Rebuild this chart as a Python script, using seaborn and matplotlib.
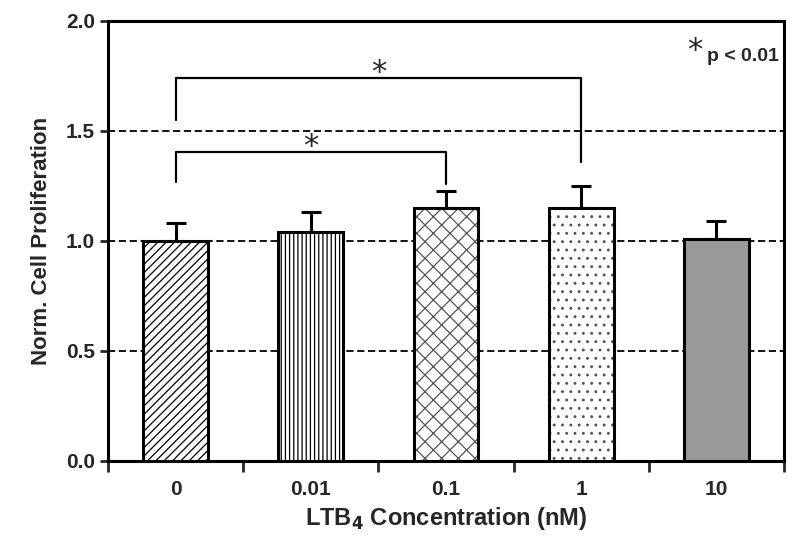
import matplotlib
matplotlib.use("Agg")
import matplotlib.pyplot as plt
import seaborn as sns
import numpy as np

# data
conc = ["0", "0.01", "0.1", "1", "10"]
prolif = [1.00, 1.04, 1.15, 1.15, 1.01]
err = [0.08, 0.09, 0.075, 0.10, 0.08]
hatches = ["////", "||||", "xx", "..", ""]
hatch_cols = ["black", "black", "#555555", "#555555", "black"]
fills = ["white", "white", "white", "white", "#999999"]

sns.set_style("ticks")
plt.rcParams["font.family"] = ["Liberation Sans", "DejaVu Sans"]
plt.rcParams["hatch.linewidth"] = 0.9

fig = plt.figure(figsize=(8, 5.5), dpi=100)
ax = fig.add_axes([0.135, 0.162, 0.845, 0.80])

# fill + hatch layer
ax_bar = sns.barplot(x=conc, y=prolif, color="white", width=0.48, linewidth=0,
                     errorbar=None, ax=ax, zorder=3)
for p, h, hc, f in zip(ax_bar.patches, hatches, hatch_cols, fills):
    p.set_hatch(h)
    p.set_facecolor(f)
    p.set_edgecolor(hc)
# outline layer
sns.barplot(x=conc, y=prolif, fill=False, width=0.48, edgecolor="black",
            linewidth=2.2, errorbar=None, ax=ax, zorder=4)

# upper error bars only
ax.errorbar(range(len(conc)), prolif, yerr=[np.zeros(len(err)), err], fmt="none",
            ecolor="black", elinewidth=2.2, capsize=7, capthick=2.2, zorder=2)

# dashed reference lines
for yv in [0.5, 1.0, 1.5]:
    ax.axhline(yv, color="black", ls=(0, (4, 2)), lw=1.3, zorder=1)

# significance brackets
ax.plot([0, 0, 2, 2], [1.27, 1.405, 1.405, 1.26], color="black", lw=1.6)
ax.plot([0, 0, 3, 3], [1.55, 1.74, 1.74, 1.36], color="black", lw=1.6)
star = dict(ha="center", va="center", fontsize=22, family="DejaVu Sans")
ax.text(1.0, 1.43, "*", **star)
ax.text(1.5, 1.765, "*", **star)
ax.text(3.84, 1.865, "*", **star)
ax.text(3.93, 1.84, "p < 0.01", ha="left", va="center", fontsize=14, fontweight="bold")

ax.set_ylim(0, 2.0)
ax.set_xlim(-0.5, 4.5)
ax.set_yticks([0.0, 0.5, 1.0, 1.5, 2.0])
ax.set_yticklabels(["0.0", "0.5", "1.0", "1.5", "2.0"])
ax.set_xticks(np.arange(-0.5, 5, 1.0), minor=True)
ax.tick_params(axis="x", which="major", length=0, pad=14)
ax.tick_params(axis="x", which="minor", length=8, width=2)
ax.tick_params(axis="y", length=6, width=2)
ax.tick_params(labelsize=15)
for lab in ax.get_xticklabels() + ax.get_yticklabels():
    lab.set_fontweight("bold")

for s in ax.spines.values():
    s.set_visible(True)
    s.set_linewidth(2.2)
    s.set_color("black")

ax.set_xlabel("LTB$_\\mathbf{4}$ Concentration (nM)", fontsize=17, fontweight="bold", labelpad=4)
ax.set_ylabel("Norm. Cell Proliferation", fontsize=16, fontweight="bold", labelpad=10)

fig.savefig("out.png", dpi=100)
